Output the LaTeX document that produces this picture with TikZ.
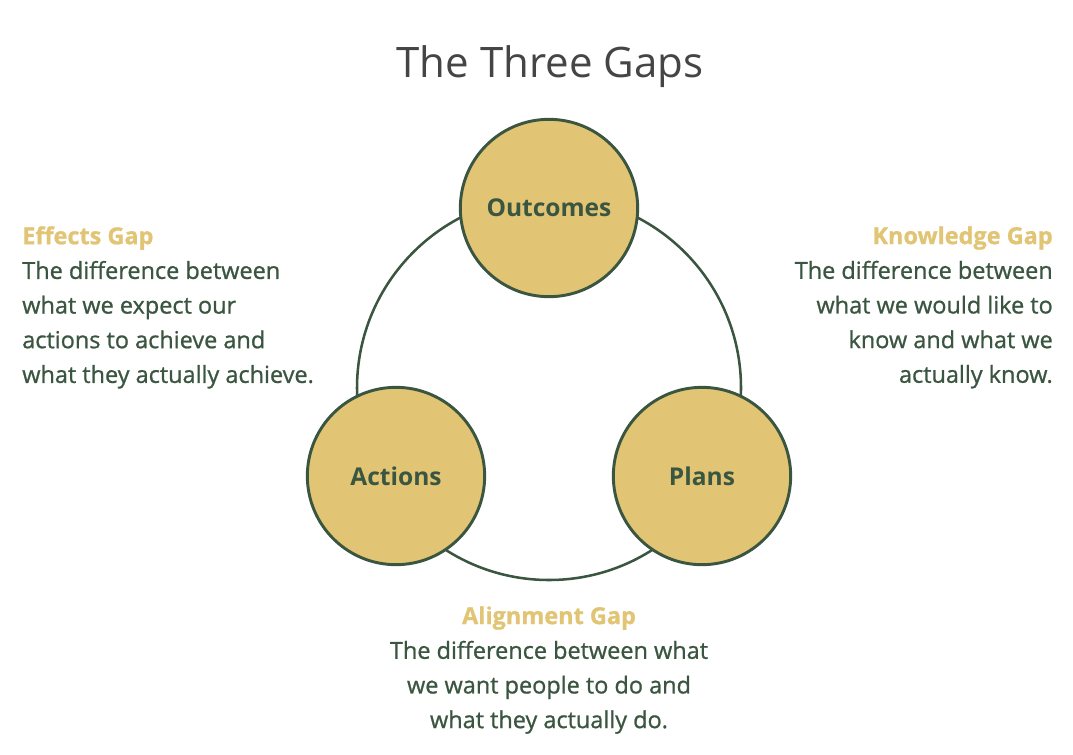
\documentclass[tikz,border=0pt]{standalone}
\usepackage{fontspec}
\setmainfont{Open Sans}
\definecolor{gold}{HTML}{E2C574}
\definecolor{dkgreen}{HTML}{3B5640}
\definecolor{titlegray}{HTML}{454545}
\begin{document}
\begin{tikzpicture}[x=0.75pt,y=-0.75pt,
  gapcircle/.style={circle,draw=dkgreen,line width=2.2pt,fill=gold,minimum size=133pt,inner sep=0pt,
    font=\bfseries\fontsize{18.4}{20}\selectfont,text=dkgreen},
  desc/.style={inner sep=0pt,font=\addfontfeatures{FakeBold=0.9}\fontsize{17.6}{26}\selectfont,text=dkgreen},
  head/.style={text=gold,font=\bfseries}]
\useasboundingbox[fill=white] (0,0) rectangle (1073,754);
\node[text=titlegray,font=\fontsize{31.5}{40}\selectfont] (title) at (550,67) {The Three Gaps};
\coordinate (ring) at (549,388);
\draw[dkgreen,line width=1.9pt] (ring) circle[radius=144pt];
\node[gapcircle] (outcomes) at (549,208) {Outcomes};
\node[gapcircle] (actions) at (396,476) {Actions};
\node[gapcircle] (plans) at (702,476) {Plans};
\node[desc,align=left,anchor=north west] (effects) at (22,226)
  {{\bfseries\color{gold}Effects Gap}\\The difference between\\what we expect our\\actions to achieve and\\what they actually achieve.};
\node[desc,align=right,anchor=north east] (knowledge) at (1053,226)
  {{\bfseries\color{gold}Knowledge Gap}\\The difference between\\what we would like to\\know and what we\\actually know.};
\node[desc,align=center,anchor=north] (alignment) at (549,606)
  {{\bfseries\color{gold}Alignment Gap}\\The difference between what\\we want people to do and\\what they actually do.};
\end{tikzpicture}
\end{document}
